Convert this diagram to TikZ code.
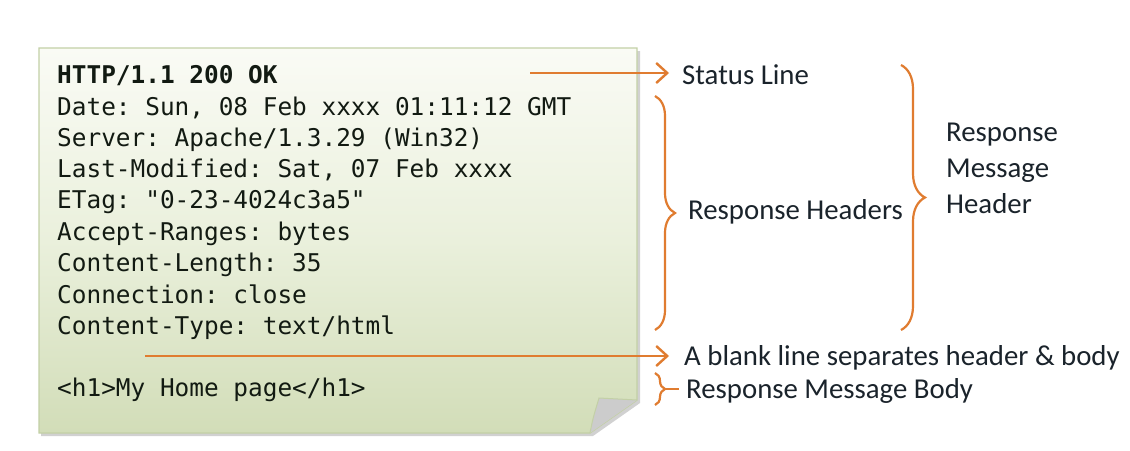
\documentclass[tikz,border=0pt]{standalone}
\usepackage{fontspec}
\setmonofont{DejaVu Sans Mono}
\newfontfamily\labelfont{Carlito}
\usetikzlibrary{arrows.meta,decorations.pathreplacing,shadows}
\definecolor{orng}{HTML}{E07C30}
\definecolor{pagetop}{HTML}{FAFBF5}
\definecolor{pagemid}{HTML}{EAF0DC}
\definecolor{pagebot}{HTML}{D2DDB8}
\definecolor{pageedge}{HTML}{C3D0A6}
\definecolor{codetext}{HTML}{121A12}
\definecolor{labtext}{HTML}{1A232B}
\tikzset{
  code/.style={anchor=base west, inner sep=0pt, font=\ttfamily\fontsize{24.4}{24.4}\selectfont, text=codetext},
  lab/.style={anchor=base west, inner sep=0pt, font=\labelfont\fontsize{28.8}{28.8}\selectfont, text=labtext},
  arr/.style={draw=orng, line width=2.7pt, -{Straight Barb[length=11pt,width=20pt,line width=2.4pt]}},
  brc/.style={draw=orng, line width=2.2pt, decorate, decoration={brace, amplitude=#1}},
}
\begin{document}
\begin{tikzpicture}[x=1pt,y=-1pt]
\useasboundingbox[fill=white] (0,0) rectangle (1130,450);
% shadow
\fill[black!18] (41,51) -- (640,51) -- (640,403) -- (593,436) -- (41,436) -- cycle;
% page
\shade[top color=pagetop, bottom color=pagebot, middle color=pagemid, draw=pageedge, line width=1.4pt]
  (39,48) -- (637,48) -- (637,400) -- (590,433) -- (39,433) -- cycle;
% fold
\fill[gray!40] (590,433) .. controls (593,418) .. (599,398) -- (637,400) -- cycle;
\draw[pageedge, line width=1pt] (590,433) .. controls (593,418) .. (599,398) -- (637,400);
% code lines
\node[code, font=\ttfamily\bfseries\fontsize{24.4}{24.4}\selectfont] (l1) at (57,83) {HTTP/1.1 200 OK};
\node[code] (l2) at (57,115) {Date: Sun, 08 Feb xxxx 01:11:12 GMT};
\node[code] (l3) at (57,146) {Server: Apache/1.3.29 (Win32)};
\node[code] (l4) at (57,177) {Last-Modified: Sat, 07 Feb xxxx};
\node[code] (l5) at (57,208) {ETag: "0-23-4024c3a5"};
\node[code] (l6) at (57,240) {Accept-Ranges: bytes};
\node[code] (l7) at (57,271) {Content-Length: 35};
\node[code] (l8) at (57,303) {Connection: close};
\node[code] (l9) at (57,334) {Content-Type: text/html};
\node[code] (l10) at (57,396) {<h1>My Home page</h1>};
% labels
\node[lab] (status) at (682,84) {Status Line};
\node[lab] (rhead) at (688,219) {Response Headers};
\node[lab] (rm1) at (946,141) {Response};
\node[lab] (rm2) at (946,177) {Message};
\node[lab] (rm3) at (946,213) {Header};
\node[lab] (blank) at (684,365) {A blank line separates header \& body};
\node[lab] (body) at (686,398) {Response Message Body};
% arrows
\coordinate (s0) at (530,73);
\coordinate (s1) at (669,73);
\draw[arr] (s0) -- (s1);
\coordinate (b0) at (145,356);
\coordinate (b1) at (669,356);
\draw[arr] (b0) -- (b1);
% braces
\coordinate (h0) at (655,96);
\coordinate (h1) at (655,330);
\draw[brc=20pt] (h0) -- (h1);
\coordinate (m0) at (901,65);
\coordinate (m1) at (901,330);
\draw[brc=24pt] (m0) -- (m1);
\coordinate (y0) at (655,373);
\coordinate (y1) at (655,405);
\draw[brc=10pt] (y0) -- (y1);
\coordinate (yt) at (665,389);
\coordinate (ye) at (679,389);
\draw[orng, line width=2pt] (yt) -- (ye);
\end{tikzpicture}
\end{document}
